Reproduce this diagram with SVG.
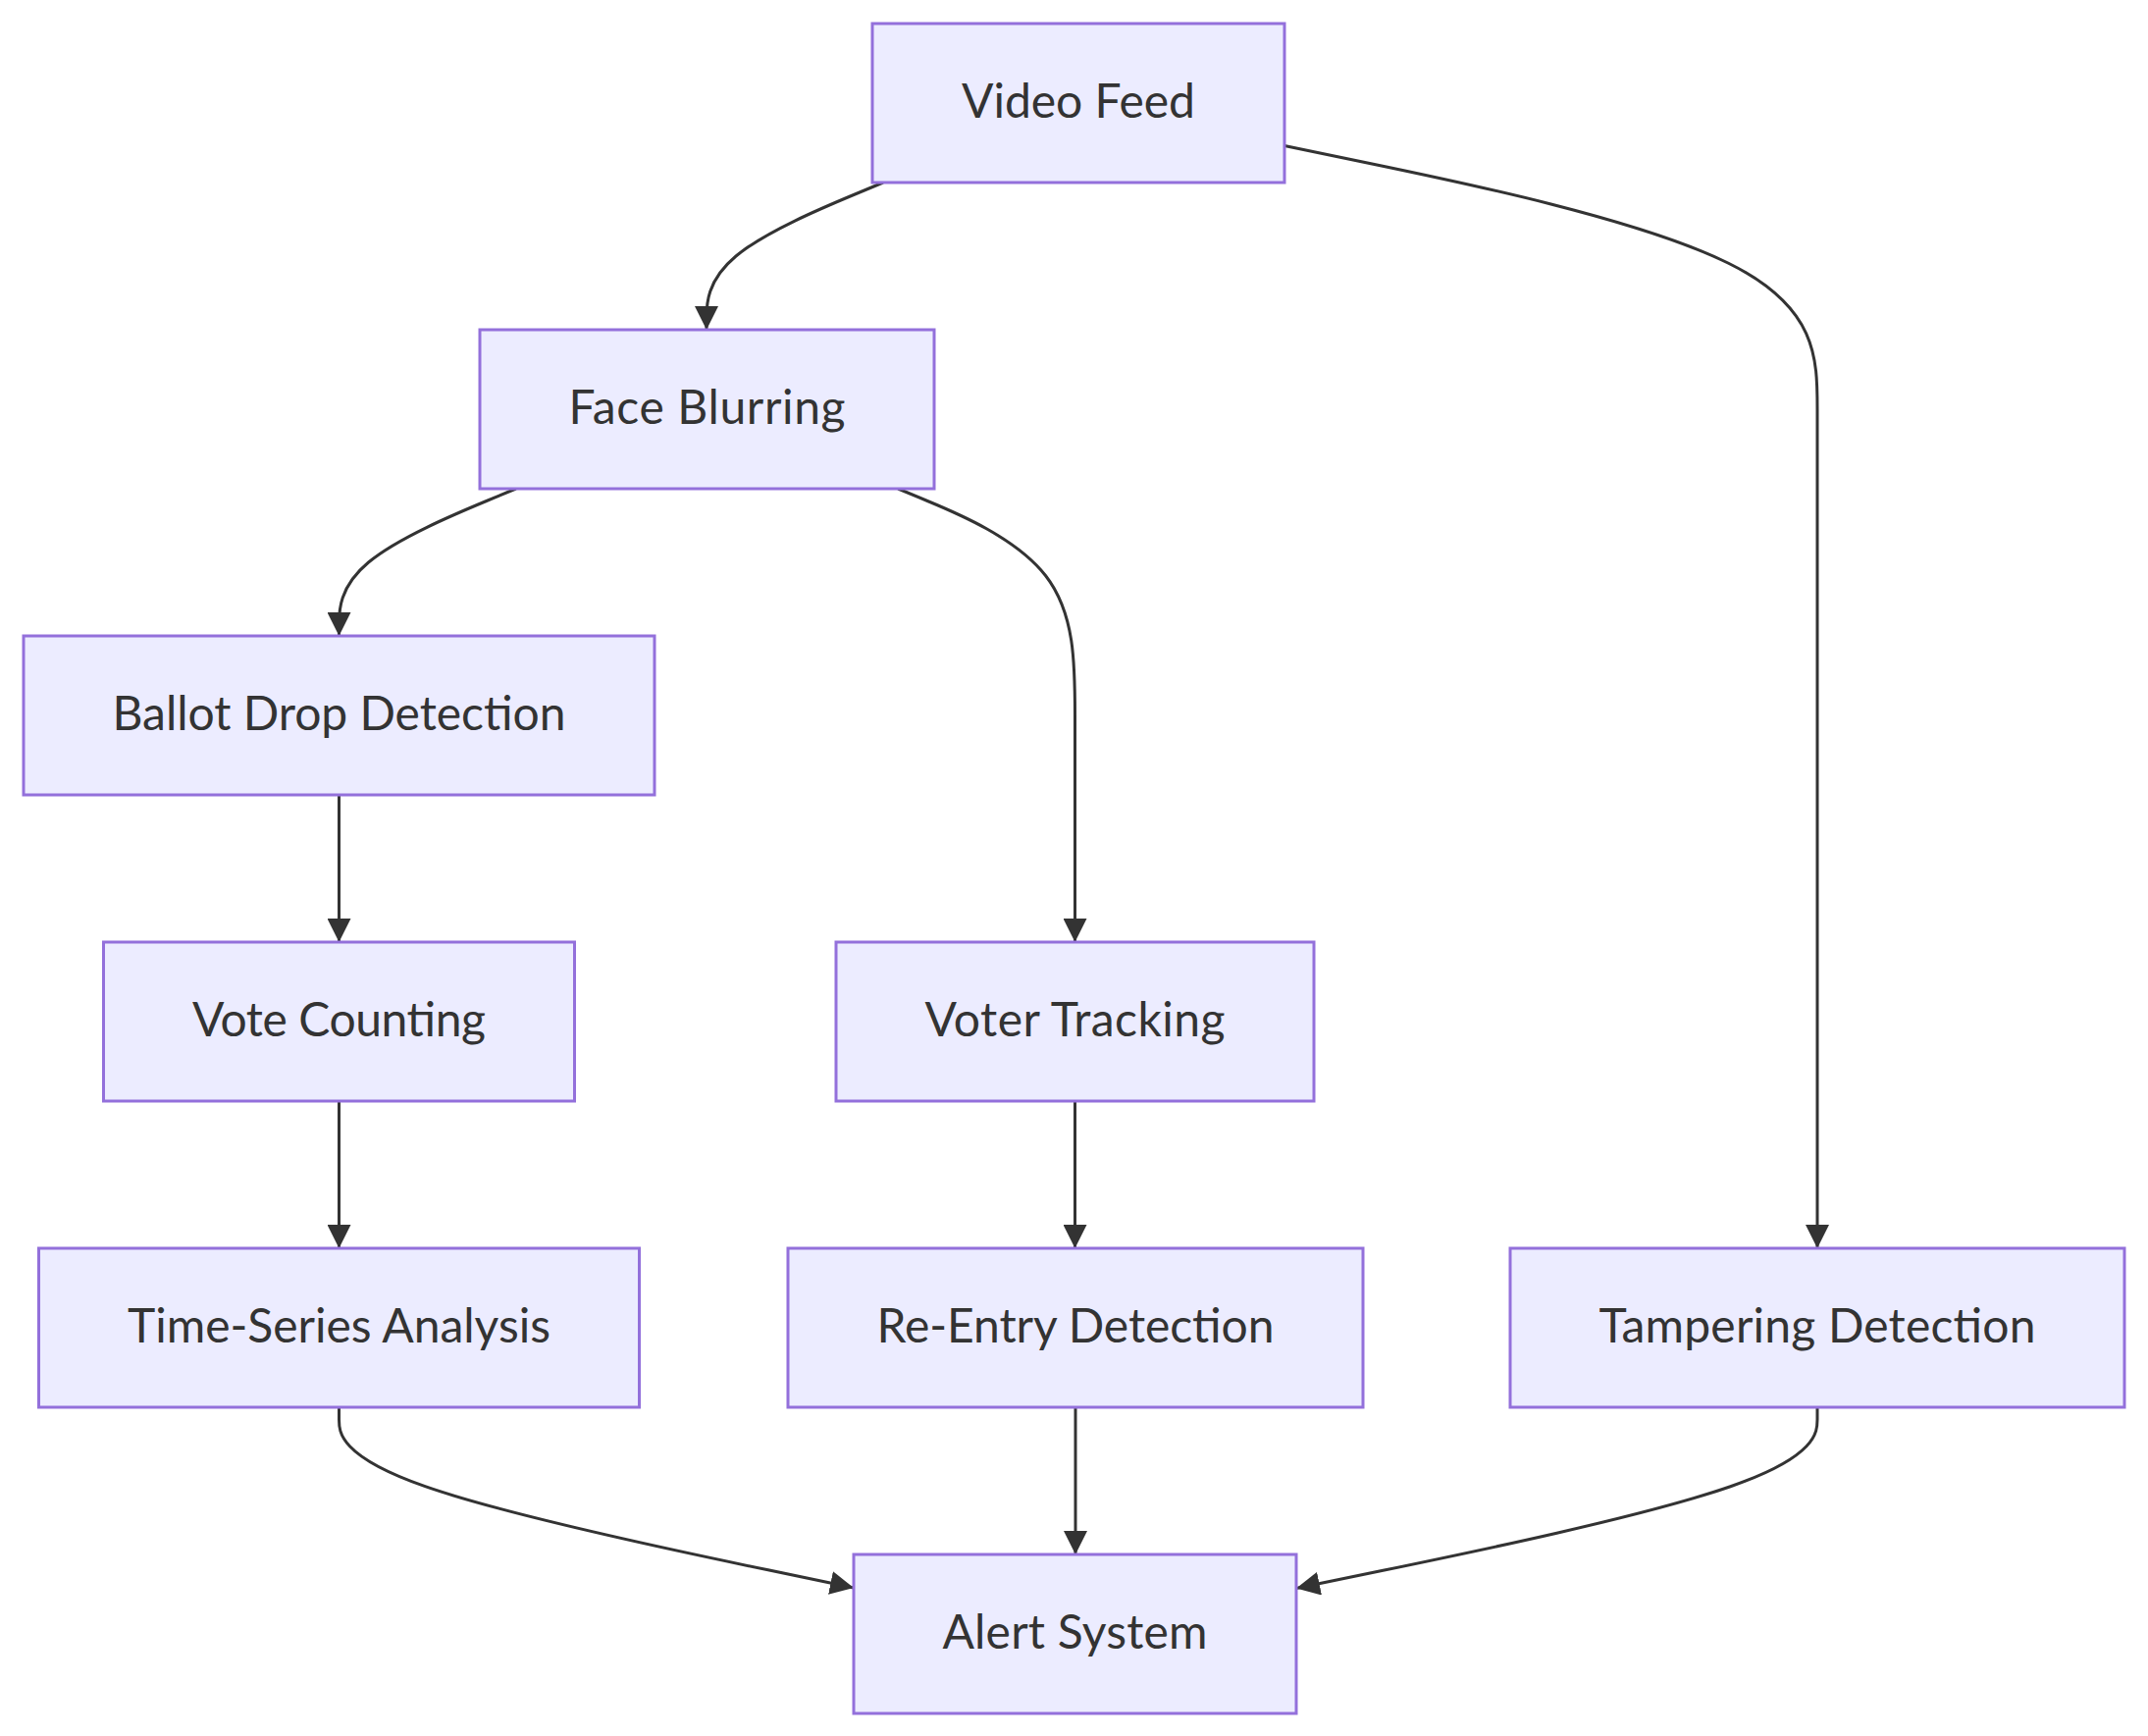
<svg xmlns="http://www.w3.org/2000/svg" width="2189" height="1769" viewBox="0 0 2189 1769">
<style>
.node rect{fill:#ECECFF;stroke:#9370DB;stroke-width:3}
.node text{font-family:"Lato","Open Sans","DejaVu Sans",sans-serif;font-size:48px;fill:#333333;text-anchor:middle}
.edge{fill:none;stroke:#333333;stroke-width:3;marker-end:url(#arrow)}
</style>
<defs>
<marker id="arrow" viewBox="0 0 10 10" refX="10" refY="5" markerUnits="userSpaceOnUse" markerWidth="24" markerHeight="24" orient="auto">
<path d="M0,0 L10,5 L0,10 z" fill="#333333"/>
</marker>
</defs>
<rect width="2189" height="1769" fill="#ffffff"/>
<g id="connectors">
<path class="edge" d="M900,186 L870,198.5 C840,211 780,236 750,261 C720,286 720,311 720,323.5 L720,336"/>
<path class="edge" d="M1309,148.5 L1399.5,167.25 C1490,186 1671,223.5 1761.5,268.25 C1852,313 1852,365 1852,417 L1852,1272"/>
<path class="edge" d="M525.8,498 L495.75,510.5 C465.7,523 405.6,548 375.55,573 C345.5,598 345.5,623 345.5,635.5 L345.5,648"/>
<path class="edge" d="M915.2,498 L945.2,510.5 C975.3,523 1035.4,548 1065.5,586.5 C1095.5,625 1095.5,677 1095.5,729 L1095.5,960"/>
<path class="edge" d="M345.5,810 L345.5,960"/>
<path class="edge" d="M345.5,1122 L345.5,1272"/>
<path class="edge" d="M1095.5,1122 L1095.5,1272"/>
<path class="edge" d="M1096,1434 L1096,1584"/>
<path class="edge" d="M345.5,1434 L345.5,1446.5 C345.5,1459 345.5,1484 433.3,1514.7 C520.7,1545.3 695.3,1581.7 782.7,1599.8 L870,1618"/>
<path class="edge" d="M1852,1434 L1852,1446.5 C1852,1459 1852,1484 1763.5,1514.75 C1675,1545.5 1498,1582 1409.5,1600.25 L1321,1618.5"/>
</g>
<g id="node-video-feed" class="node"><rect x="889" y="24" width="420" height="162"/><text x="1099" y="120" textLength="238" lengthAdjust="spacing">Video Feed</text></g>
<g id="node-face-blurring" class="node"><rect x="489" y="336" width="463" height="162"/><text x="720.5" y="432" textLength="282" lengthAdjust="spacing">Face Blurring</text></g>
<g id="node-ballot-drop" class="node"><rect x="24" y="648" width="643" height="162"/><text x="345.5" y="744" textLength="462" lengthAdjust="spacing">Ballot Drop Detection</text></g>
<g id="node-vote-counting" class="node"><rect x="105.5" y="960" width="480" height="162"/><text x="345.5" y="1056" textLength="299" lengthAdjust="spacing">Vote Counting</text></g>
<g id="node-voter-tracking" class="node"><rect x="852" y="960" width="487" height="162"/><text x="1095.5" y="1056" textLength="306" lengthAdjust="spacing">Voter Tracking</text></g>
<g id="node-time-series" class="node"><rect x="39.5" y="1272" width="612" height="162"/><text x="345.5" y="1368" textLength="431" lengthAdjust="spacing">Time-Series Analysis</text></g>
<g id="node-re-entry" class="node"><rect x="803" y="1272" width="586" height="162"/><text x="1096" y="1368" textLength="405" lengthAdjust="spacing">Re-Entry Detection</text></g>
<g id="node-tampering" class="node"><rect x="1539" y="1272" width="626" height="162"/><text x="1852" y="1368" textLength="445" lengthAdjust="spacing">Tampering Detection</text></g>
<g id="node-alert" class="node"><rect x="870" y="1584" width="451" height="162"/><text x="1095.5" y="1680" textLength="270" lengthAdjust="spacing">Alert System</text></g>
</svg>
